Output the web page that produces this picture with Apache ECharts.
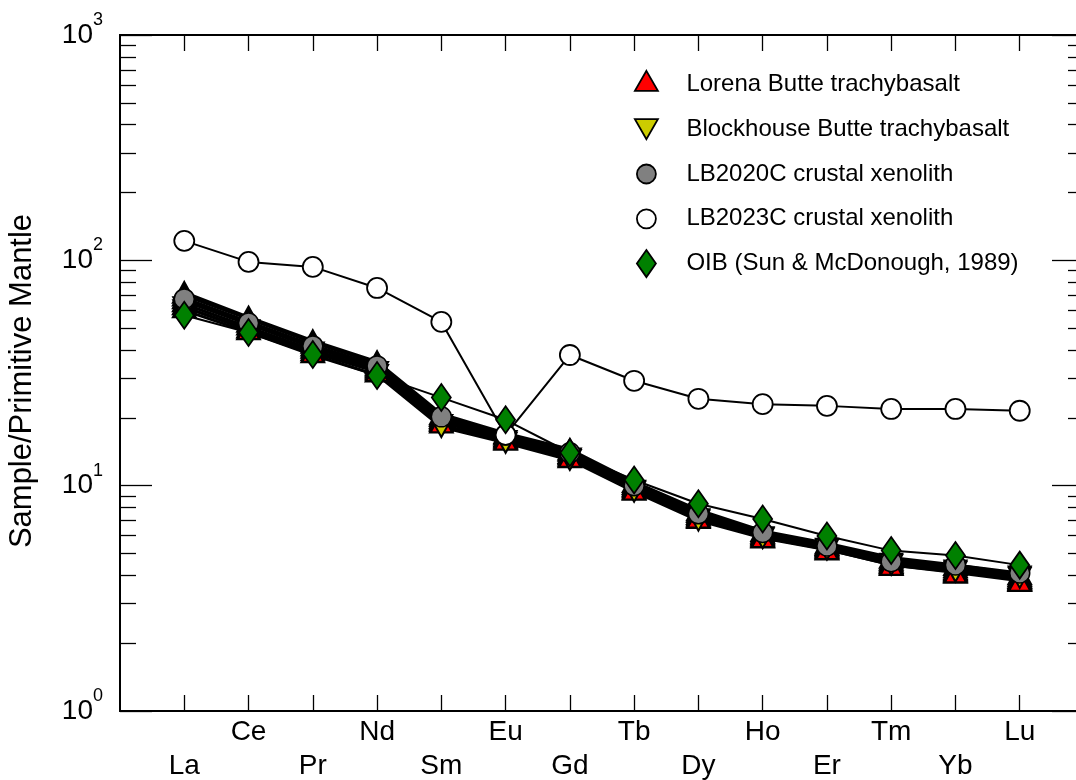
<!DOCTYPE html>
<html><head><meta charset="utf-8">
<script src="https://cdn.jsdelivr.net/npm/echarts@6/dist/echarts.min.js"></script>
<style>html,body{margin:0;padding:0;background:#fff}#c{width:1076px;height:780px}</style>
</head><body><div id="c"></div>
<script>
// Rare earth elements (x positions 1..14)
const elements = ['La','Ce','Pr','Nd','Sm','Eu','Gd','Tb','Dy','Ho','Er','Tm','Yb','Lu'];
// y-axis tick values
const majorTicks = [1, 10, 100, 1000];
const minorTicks = [2,3,4,5,6,7,8,9,20,30,40,50,60,70,80,90,200,300,400,500,600,700,800,900];

// Lorena Butte trachybasalt samples (normalised to primitive mantle)
const lorena1 = [72, 56, 44, 35.5, 20.8, 17.1, 14.5, 10.4, 7.8, 6.3, 5.55, 4.8, 4.45, 4.05];
const lorena2 = [70, 55, 43.2, 35, 20.4, 16.9, 14.3, 10.2, 7.65, 6.2, 5.47, 4.7, 4.35, 3.97];
const lorena3 = [68, 53.5, 42, 34.2, 20.0, 16.6, 14.0, 10.0, 7.5, 6.1, 5.4, 4.62, 4.27, 3.9];
const lorena4 = [66, 52, 41, 33.5, 19.7, 16.4, 13.8, 9.85, 7.38, 6.02, 5.33, 4.55, 4.21, 3.85];
const lorena5 = [64, 50.5, 40, 32.8, 19.4, 16.2, 13.6, 9.7, 7.28, 5.95, 5.27, 4.49, 4.16, 3.81];
const lorena6 = [62, 49.5, 39.2, 32.2, 19.1, 16.0, 13.4, 9.6, 7.2, 5.9, 5.22, 4.45, 4.12, 3.78];
// Blockhouse Butte trachybasalt samples
const blockhouse1 = [62, 49, 39, 32, 18.6, 15.8, 13.2, 9.5, 7.1, 5.9, 5.25, 4.5, 4.2, 3.95];
const blockhouse2 = [60, 48, 38, 31, 18.2, 15.5, 13.0, 9.4, 7.0, 5.85, 5.2, 4.45, 4.15, 3.9];
// Crustal xenoliths
const lb2020c = [67.4, 52.7, 41.7, 34.0, 20.2, 16.8, 14.0, 10.0, 7.5, 6.2, 5.4, 4.6, 4.45, 4.1];
const lb2023c = [122, 98.4, 93.5, 75.4, 53.3, 16.8, 38.0, 29.2, 24.3, 23.0, 22.6, 21.9, 21.9, 21.5];
// OIB (Sun & McDonough, 1989)
const oib = [57.1, 47.8, 38.2, 30.8, 24.6, 19.6, 14.0, 10.6, 8.31, 7.11, 5.98, 5.15, 4.90, 4.44];

const FONT = "'Liberation Sans', Arial, Helvetica, sans-serif";
const toPts = arr => arr.map((v, i) => [i + 1, v]);
const xTicks = elements.map((e, i) => i + 1);

function lineSeries(name, data, symbol, size, color, rotate, lw, bw) {
  return {
    name: name, type: 'line', data: toPts(data),
    symbol: symbol, symbolSize: size, symbolRotate: rotate || 0,
    showAllSymbol: true,
    lineStyle: { color: '#000', width: lw || 2 },
    itemStyle: { color: color, borderColor: '#000', borderWidth: bw || 1.5 },
    emphasis: { disabled: true }, animation: false,
    xAxisIndex: 0, yAxisIndex: 0
  };
}

const N1 = 'Lorena Butte trachybasalt';
const N2 = 'Blockhouse Butte trachybasalt';
const N3 = 'LB2020C crustal xenolith';
const N4 = 'LB2023C crustal xenolith';
const N5 = 'OIB (Sun & McDonough, 1989)';

const series = [
  lineSeries(N1, lorena1, 'triangle', [22, 20], '#ff0000', 0, 3, 2.5),
  lineSeries(N1, lorena2, 'triangle', [22, 20], '#ff0000', 0, 3, 2.5),
  lineSeries(N1, lorena3, 'triangle', [22, 20], '#ff0000', 0, 3, 2.5),
  lineSeries(N1, lorena4, 'triangle', [22, 20], '#ff0000', 0, 3, 2.5),
  lineSeries(N1, lorena5, 'triangle', [22, 20], '#ff0000', 0, 3, 2.5),
  lineSeries(N1, lorena6, 'triangle', [22, 20], '#ff0000', 0, 3, 2.5),
  lineSeries(N2, blockhouse1, 'triangle', [22, 20], '#cccc00', 180, 3, 2),
  lineSeries(N2, blockhouse2, 'triangle', [22, 20], '#cccc00', 180, 3, 2),
  lineSeries(N3, lb2020c, 'circle', 20, '#808080', 0, 3, 1.5),
  lineSeries(N4, lb2023c, 'circle', 20, '#ffffff', 0, 2, 1.8),
  lineSeries(N5, oib, 'diamond', [19, 27], '#008000', 0, 2, 1.8)
];

const legendStyle = c => ({ color: c, borderColor: '#000', borderWidth: 1.8 });

const yBase = {
  type: 'log', logBase: 10, min: 1, max: 1000,
  axisLine: { show: true, lineStyle: { color: '#000', width: 2 } },
  splitLine: { show: false }, minorTick: { show: false }
};

const option = {
  backgroundColor: '#fff',
  animation: false,
  textStyle: { fontFamily: FONT },
  grid: { left: 120, top: 35, right: -8, bottom: 69, containLabel: false, outerBoundsMode: 'none' },
  legend: {
    orient: 'vertical', left: 627, top: 65, itemWidth: 70, itemHeight: 27, itemGap: 16,
    selectedMode: false,
    textStyle: { fontSize: 24, color: '#000', fontFamily: FONT },
    data: [
      { name: N1, icon: 'path://M0,0M27,27M13.5,0L25,20L2,20Z', itemStyle: legendStyle('#ff0000') },
      { name: N2, icon: 'path://M0,0M27,27M2,3.5L25,3.5L13.5,23.5Z', itemStyle: legendStyle('#cccc00') },
      { name: N3, icon: 'path://M0,0M27,27M4,13.5A9.5,9.5,0,1,1,23,13.5A9.5,9.5,0,1,1,4,13.5Z', itemStyle: legendStyle('#808080') },
      { name: N4, icon: 'path://M0,0M27,27M4,13.5A9.5,9.5,0,1,1,23,13.5A9.5,9.5,0,1,1,4,13.5Z', itemStyle: legendStyle('#ffffff') },
      { name: N5, icon: 'path://M0,0M27,27M13.5,0L23,13.5L13.5,27L4,13.5Z', itemStyle: legendStyle('#008000') }
    ]
  },
  xAxis: [
    {
      type: 'value', min: 0, max: 15, position: 'bottom',
      axisLine: { show: true, onZero: false, lineStyle: { color: '#000', width: 2 } },
      axisTick: { show: true, inside: true, length: 16, customValues: xTicks, lineStyle: { color: '#000', width: 1.3 } },
      axisLabel: {
        show: true, customValues: xTicks, margin: 4, fontSize: 28, lineHeight: 34, color: '#000', fontFamily: FONT,
        formatter: v => { const n = elements[Math.round(v) - 1] || ''; return (Math.round(v) % 2 === 1) ? '\n' + n : n; }
      },
      splitLine: { show: false }
    },
    {
      type: 'value', min: 0, max: 15, position: 'top',
      axisLine: { show: true, onZero: false, lineStyle: { color: '#000', width: 2 } },
      axisTick: { show: true, inside: true, length: 16, customValues: xTicks, lineStyle: { color: '#000', width: 1.3 } },
      axisLabel: { show: false }, splitLine: { show: false }
    }
  ],
  yAxis: [
    Object.assign({}, yBase, {
      position: 'left',
      name: 'Sample/Primitive Mantle', nameLocation: 'middle', nameGap: 82, nameRotate: 90,
      nameTextStyle: { fontSize: 31, color: '#000', fontFamily: FONT, padding: [0, 16, 0, 0] },
      axisTick: { show: true, inside: true, length: 32, customValues: majorTicks, lineStyle: { color: '#000', width: 1.3 } },
      axisLabel: {
        show: true, customValues: majorTicks, margin: 17, color: '#000',
        formatter: v => '{b|10}{s|' + Math.round(Math.log10(v)) + '}',
        rich: {
          b: { fontSize: 28, lineHeight: 48, fontFamily: FONT, color: '#000' },
          s: { fontSize: 18, lineHeight: 18, verticalAlign: 'top', fontFamily: FONT, color: '#000' }
        }
      }
    }),
    Object.assign({}, yBase, {
      position: 'left',
      axisTick: { show: true, inside: true, length: 16, customValues: minorTicks, lineStyle: { color: '#000', width: 1.3 } },
      axisLabel: { show: false }
    }),
    Object.assign({}, yBase, {
      position: 'right',
      axisTick: { show: true, inside: true, length: 32, customValues: majorTicks, lineStyle: { color: '#000', width: 1.3 } },
      axisLabel: { show: false }
    }),
    Object.assign({}, yBase, {
      position: 'right',
      axisTick: { show: true, inside: true, length: 16, customValues: minorTicks, lineStyle: { color: '#000', width: 1.3 } },
      axisLabel: { show: false }
    })
  ],
  series: series
};

const chart = echarts.init(document.getElementById('c'), null, { renderer: 'canvas' });
chart.setOption(option);
</script>
</body></html>
